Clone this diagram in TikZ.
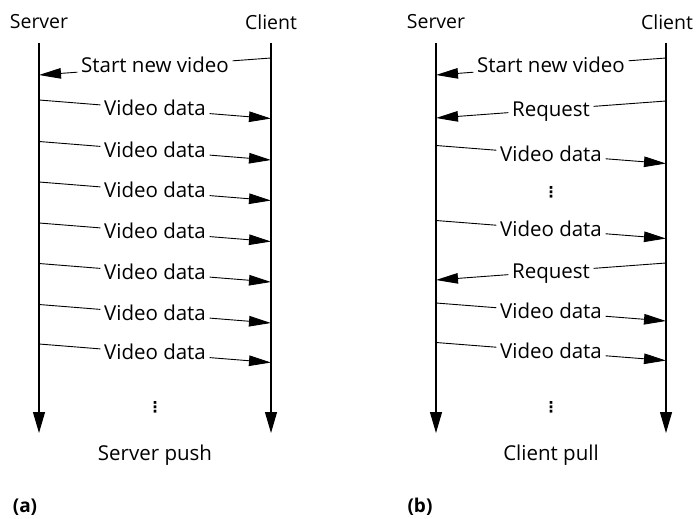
\documentclass[tikz,border=0pt]{standalone}
\usepackage{fontspec}
\setmainfont{Open Sans}
\newfontfamily\symfont{DejaVu Sans}
\usetikzlibrary{arrows.meta}
\begin{document}
\begin{tikzpicture}[x=1pt,y=-1pt,
  every node/.style={font=\fontsize{20.5}{24}\selectfont},
  head/.style={font=\fontsize{19.5}{23}\selectfont},
  lifeline/.style={line width=1.1pt,-{Triangle[length=21pt,width=12pt]}},
  msgline/.style={line width=0.9pt},
  msgarrow/.style={line width=0.9pt,-{Triangle[length=22pt,width=10.5pt]}},
  msg/.style={inner xsep=3.5pt,inner ysep=0pt,text height=17pt,text depth=4pt},
  dots/.style={font=\symfont\bfseries\fontsize{15}{15}\selectfont,inner sep=0pt},
  caption/.style={},
  tag/.style={font=\fontsize{19}{22}\selectfont\bfseries},
]
\useasboundingbox (0,0) rectangle (699,519);

% ---------- (a) server push ----------
\node[head] (aServer) at (39,22) {Server};
\node[head] (aClient) at (271,22) {Client};
\coordinate (aS-top) at (39,43);  \coordinate (aS-bot) at (39,433);
\coordinate (aC-top) at (271,43); \coordinate (aC-bot) at (271,433);
\draw[lifeline] (aS-top) -- (aS-bot);
\draw[lifeline] (aC-top) -- (aC-bot);

% request from the client
\coordinate (a-c0) at (271,58);
\coordinate (a-s0) at (39,75);
\path (a-c0) -- node[msg] (a-m0) {Start new video} (a-s0);
\draw[msgline] (a-c0) -- (a-m0);
\draw[msgarrow] (a-m0) -- (a-s0);

% pushed data
\foreach \i/\y in {1/100,2/141.5,3/182,4/223,5/263.5,6/304.5,7/344}{
  \coordinate (a-s\i) at (39,\y);
  \coordinate (a-c\i) at (271,\y+18.5);
  \path (a-s\i) -- node[msg] (a-m\i) {Video data} (a-c\i);
  \draw[msgline] (a-s\i) -- (a-m\i);
  \draw[msgarrow] (a-m\i) -- (a-c\i);
}
\node[dots] (a-more) at (155,407) {⋮};
\node[caption] (a-cap) at (155,455) {Server push};
\node[tag] (a-tag) at (25,507) {(a)};

% ---------- (b) client pull ----------
\node[head] (bServer) at (436,22) {Server};
\node[head] (bClient) at (667,22) {Client};
\coordinate (bS-top) at (436,43); \coordinate (bS-bot) at (436,433);
\coordinate (bC-top) at (666,43); \coordinate (bC-bot) at (666,433);
\draw[lifeline] (bS-top) -- (bS-bot);
\draw[lifeline] (bC-top) -- (bC-bot);

% messages from the client
\foreach \i/\y/\t in {0/58/Start new video,1/101/Request,5/263/Request}{
  \coordinate (b-c\i) at (666,\y);
  \coordinate (b-s\i) at (436,\y+17);
  \path (b-c\i) -- node[msg] (b-m\i) {\t} (b-s\i);
  \draw[msgline] (b-c\i) -- (b-m\i);
  \draw[msgarrow] (b-m\i) -- (b-s\i);
}
% data from the server
\foreach \i/\y in {2/145.5,4/220.5,6/303,7/342.5}{
  \coordinate (b-s\i) at (436,\y);
  \coordinate (b-c\i) at (666,\y+18);
  \path (b-s\i) -- node[msg] (b-m\i) {Video data} (b-c\i);
  \draw[msgline] (b-s\i) -- (b-m\i);
  \draw[msgarrow] (b-m\i) -- (b-c\i);
}
\node[dots] (b-more1) at (551,192) {⋮};
\node[dots] (b-more2) at (551,407) {⋮};
\node[caption] (b-cap) at (551,455) {Client pull};
\node[tag] (b-tag) at (420,507) {(b)};
\end{tikzpicture}
\end{document}
